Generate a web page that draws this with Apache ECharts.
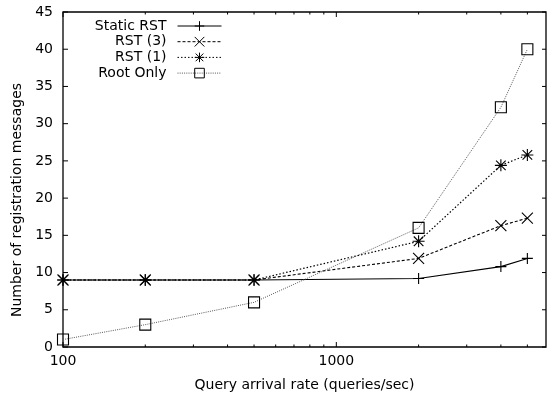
<!DOCTYPE html>
<html>
<head>
<meta charset="utf-8">
<script src="https://cdn.jsdelivr.net/npm/echarts@6/dist/echarts.min.js"></script>
<style>
  html, body { margin: 0; padding: 0; background: #fff; }
  #chart { width: 547px; height: 400px; }
</style>
</head>
<body>
<div id="chart"></div>
<script>
// query arrival rate (queries/sec)
const rates = [100, 200, 500, 2000, 4000, 5000]
const staticRst = [9, 9, 9, 9.2, 10.8, 11.9]
const rst3 = [9, 9, 9, 11.9, 16.3, 17.3]
const rst1 = [9, 9, 9, 14.2, 24.4, 25.8]
const rootOnly = [1, 3, 6, 16, 32.2, 40]

const xLabels = [100, 1000]
const xMinor = [200, 300, 400, 500, 600, 700, 800, 900, 2000, 3000, 4000, 5000]
const yTicks = [0, 5, 10, 15, 20, 25, 30, 35, 40, 45]

const font = 'DejaVu Sans'
const black = '#000'

// gnuplot style point types
const plusPath = 'path://M0,5L10,5M5,0L5,10'
const crossPath = 'path://M0,0L10,10M10,0L0,10'
const starPath = 'path://M0,5L10,5M5,0L5,10M1,1L9,9M9,1L1,9'

const pair = (xs, ys) => xs.map((x, i) => [x, ys[i]])

const makeSeries = (name, data, symbol, size, lineStyle) => ({
    name,
    type: 'line',
    data: pair(rates, data),
    symbol,
    symbolSize: size,
    showAllSymbol: true,
    lineStyle,
    itemStyle: { color: 'rgba(0,0,0,0)', borderColor: black, borderWidth: 1.1 },
    emphasis: { disabled: true },
    animation: false,
})

const chart = echarts.init(document.getElementById('chart'))
const option = {
    animation: false,
    textStyle: { fontFamily: font },
    grid: {
        left: 63, right: 1, top: 12, bottom: 53,
        show: true, borderColor: black, borderWidth: 1.3,
    },
    legend: {
        orient: 'vertical',
        align: 'right',
        right: 325,
        top: 19,
        padding: 0,
        itemWidth: 44,
        itemHeight: 12,
        itemGap: 1.7,
        selectedMode: false,
        itemStyle: { borderWidth: 1 },
        lineStyle: { width: 1 },
        textStyle: { fontFamily: font, fontSize: 14, color: black, padding: [0, 6, 0, 0] },
        data: ['Static RST', 'RST (3)', 'RST (1)', 'Root Only'],
    },
    xAxis: {
        type: 'log',
        logBase: 10,
        min: 100,
        max: 5850,
        splitLine: { show: false },
        axisLine: { show: false },
        axisTick: { show: false },
        name: 'Query arrival rate (queries/sec)',
        nameLocation: 'middle',
        nameGap: 31,
        nameTextStyle: { fontFamily: font, fontSize: 14, color: black },
        axisLabel: {
            customValues: xLabels, margin: 7, fontFamily: font, fontSize: 14, color: black,
            formatter: (v) => String(Math.round(v)),
        },
    },
    yAxis: {
        type: 'value',
        min: 0, max: 45, interval: 5,
        splitLine: { show: false },
        axisLine: { show: false },
        axisTick: { show: false },
        axisLabel: { margin: 10, fontFamily: font, fontSize: 14, color: black },
    },
    series: [
        makeSeries('Static RST', staticRst, plusPath, 11, { color: black, width: 1.1, type: 'solid' }),
        makeSeries('RST (3)', rst3, crossPath, 11, { color: black, width: 1.1, type: [3, 2] }),
        makeSeries('RST (1)', rst1, starPath, 12, { color: black, width: 1.2, type: [1.5, 2] }),
        makeSeries('Root Only', rootOnly, 'rect', 11, { color: '#555', width: 1, type: [1, 1.2] }),
    ],
}
chart.setOption(option)

// gnuplot-like mirrored ticks on all four sides, placed through the axis scales
const toPx = (pt) => chart.convertToPixel({ gridIndex: 0 }, pt)
const tickLine = (x1, y1, x2, y2) => ({
    type: 'line',
    silent: true,
    shape: { x1, y1, x2, y2 },
    style: { stroke: black, lineWidth: 1 },
})
const graphics = []
const yBottom = toPx([100, 0])[1]
const yTop = toPx([100, 45])[1]
const xLeft = toPx([100, 0])[0]
const xRight = toPx([5850, 0])[0]
xLabels.concat(xMinor).forEach((v) => {
    const len = xLabels.includes(v) ? 5 : 2.5
    const px = toPx([v, 0])[0]
    graphics.push(tickLine(px, yBottom, px, yBottom - len))
    graphics.push(tickLine(px, yTop, px, yTop + len))
})
yTicks.forEach((v) => {
    const py = toPx([100, v])[1]
    graphics.push(tickLine(xLeft, py, xLeft + 5, py))
    graphics.push(tickLine(xRight, py, xRight - 4, py))
})
graphics.push({
    type: 'text',
    x: 17,
    y: 200,
    rotation: Math.PI / 2,
    style: {
        text: 'Number of registration messages',
        font: '14px "DejaVu Sans"',
        fill: black,
        align: 'center',
        verticalAlign: 'middle',
    },
})
chart.setOption({ graphic: graphics })

window.addEventListener('resize', () => {
    chart.resize()
})
</script>
</body>
</html>
